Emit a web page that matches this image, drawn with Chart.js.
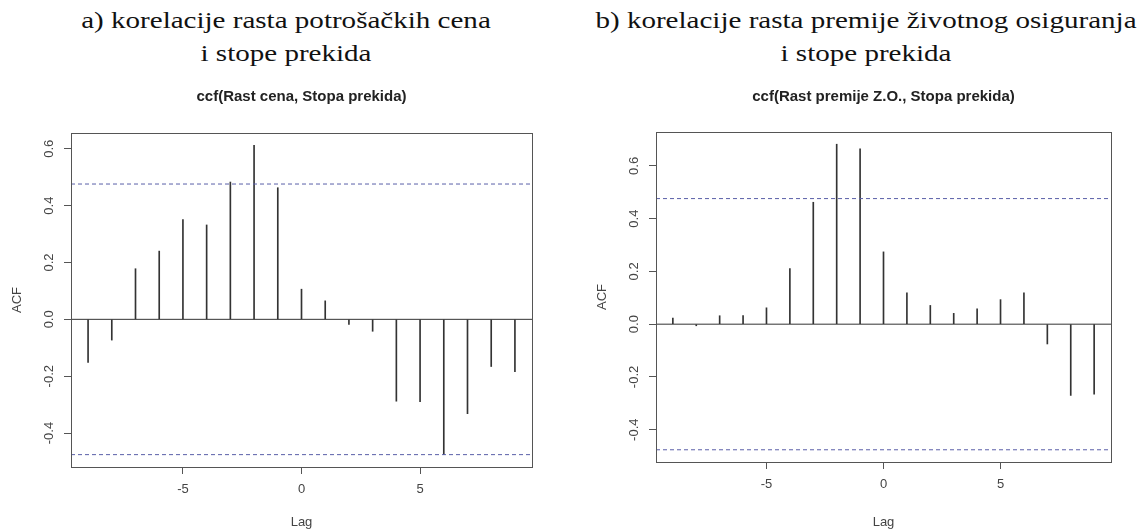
<!DOCTYPE html>
<html>
<head>
<meta charset="utf-8">
<script src="https://cdn.jsdelivr.net/npm/chart.js@4/dist/chart.umd.min.js"></script>
<style>
  html, body { margin: 0; padding: 0; background: #fff; }
  body { width: 1148px; height: 530px; position: relative; overflow: hidden; }
  .heading {
    position: absolute; top: 4px; width: 574px; text-align: center;
    font-family: "Liberation Serif", "DejaVu Serif", serif; font-size: 24px; line-height: 33px; color: #111;
    transform: scaleX(1.21); transform-origin: 50% 0;
  }
  .panel { position: absolute; top: 80px; width: 574px; height: 450px; }
</style>
</head>
<body>
<div class="heading" style="left:-1px">a) korelacije rasta potrošačkih cena<br>i stope prekida</div>
<div class="heading" style="left:579px">b) korelacije rasta premije životnog osiguranja<br>i stope prekida</div>
<div class="panel" style="left:0"><canvas id="ccfA"></canvas></div>
<div class="panel" style="left:574px"><canvas id="ccfB"></canvas></div>
<script>
const lags = [-9, -8, -7, -6, -5, -4, -3, -2, -1, 0, 1, 2, 3, 4, 5, 6, 7, 8, 9];
const ccfPrices = [-0.152, -0.073, 0.178, 0.240, 0.351, 0.332, 0.483, 0.612, 0.463,
  0.106, 0.065, -0.018, -0.042, -0.288, -0.290, -0.476, -0.332, -0.166, -0.184];
const ccfPremium = [0.023, -0.006, 0.032, 0.033, 0.062, 0.211, 0.462, 0.682, 0.665,
  0.274, 0.119, 0.071, 0.041, 0.058, 0.093, 0.119, -0.075, -0.270, -0.265];
const ciBound = 0.476;
const xTicks = [-5, 0, 5];
const yTicks = [-0.4, -0.2, 0.0, 0.2, 0.4, 0.6];

const sans = '"Liberation Sans", Arial, sans-serif';
const axisColor = '#555';

// R-style axes: 4% padding around the data range
function rRange(vals) {
  const lo = Math.min(...vals), hi = Math.max(...vals);
  const pad = (hi - lo) * 0.04;
  return [lo - pad, hi + pad];
}

// box round the plot, main title centred over the plot, rotated y tick labels
const boxPlugin = {
  id: 'rbox',
  afterDraw(chart, args, opts) {
    const { ctx, chartArea: a, scales } = chart;
    ctx.save();
    ctx.strokeStyle = axisColor;
    ctx.lineWidth = 1;
    ctx.strokeRect(Math.round(a.left) + 0.5, Math.round(a.top) + 0.5,
      Math.round(a.right - a.left), Math.round(a.bottom - a.top));

    ctx.textAlign = 'center';
    ctx.textBaseline = 'middle';
    ctx.fillStyle = '#222';
    ctx.font = 'bold 15px ' + sans;
    ctx.fillText(opts.text, (a.left + a.right) / 2, 17);

    ctx.fillStyle = '#444';
    ctx.font = '13px ' + sans;
    for (const v of yTicks) {
      const y = scales.y.getPixelForValue(v);
      ctx.save();
      ctx.translate(a.left - 22, y);
      ctx.rotate(-Math.PI / 2);
      ctx.fillText(v.toFixed(1), 0, 0);
      ctx.restore();
    }
    ctx.restore();
  }
};

function makeCcf(id, title, values, geo) {
  const [xMin, xMax] = rRange(lags);
  const [yMin, yMax] = rRange([...values, ciBound, -ciBound]);
  const hline = (v, dash, color) => ({
    type: 'line', data: [{ x: xMin, y: v }, { x: xMax, y: v }],
    borderColor: color, borderWidth: 1, borderDash: dash, pointRadius: 0, order: 0
  });
  new Chart(document.getElementById(id), {
    type: 'bar',
    data: {
      datasets: [
        {
          data: lags.map((l, i) => ({ x: l, y: values[i] })),
          backgroundColor: '#333', barThickness: 1, order: 1
        },
        hline(0, [], '#333'),
        hline(ciBound, [4, 3], '#5a5fa8'),
        hline(-ciBound, [4, 3], '#5a5fa8')
      ]
    },
    options: {
      responsive: true, maintainAspectRatio: false, animation: false,
      layout: { padding: { left: 0, right: geo.right, top: geo.top, bottom: 0 } },
      plugins: {
        legend: { display: false }, tooltip: { enabled: false }, title: { display: false },
        rbox: { text: title }
      },
      scales: {
        x: {
          type: 'linear', min: xMin, max: xMax, offset: false,
          grid: { display: true, offset: false, drawOnChartArea: false, drawTicks: true, tickLength: 7, color: axisColor },
          border: { display: false },
          ticks: { color: '#444', font: { family: sans, size: 13 }, padding: 8 },
          afterBuildTicks: s => { s.ticks = xTicks.map(v => ({ value: v })); },
          afterFit: s => { s.height = geo.bottom; },
          title: { display: true, text: 'Lag', color: '#444', font: { family: sans, size: 13 }, padding: { top: 0, bottom: 0 } }
        },
        y: {
          min: yMin, max: yMax,
          grid: { display: true, offset: false, drawOnChartArea: false, drawTicks: true, tickLength: 7, color: axisColor },
          border: { display: false },
          ticks: { display: false },
          afterBuildTicks: s => { s.ticks = yTicks.map(v => ({ value: v })); },
          afterFit: s => { s.width = geo.left; },
          title: { display: true, text: 'ACF', color: '#444', font: { family: sans, size: 13 }, padding: { top: geo.acf, bottom: 0 } }
        }
      }
    },
    plugins: [boxPlugin]
  });
}

makeCcf('ccfA', 'ccf(Rast cena, Stopa prekida)', ccfPrices,
  { left: 71, right: 42, top: 53, bottom: 63, acf: 10 });
makeCcf('ccfB', 'ccf(Rast premije Z.O., Stopa prekida)', ccfPremium,
  { left: 82, right: 37, top: 52, bottom: 68, acf: 21 });
</script>
</body>
</html>
